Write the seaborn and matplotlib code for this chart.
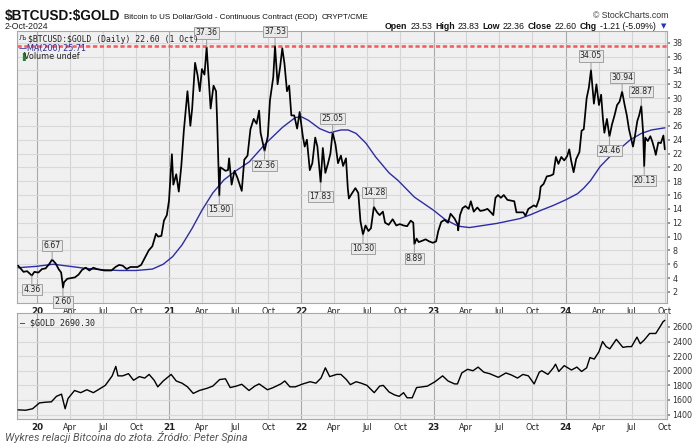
import pandas as pd
import seaborn as sns
import matplotlib.pyplot as plt
from matplotlib import font_manager

# ---- data ----
ratio_dates = [
    "2019-11-10", "2019-11-25", "2019-12-05", "2019-12-18", "2019-12-25",
    "2020-01-05", "2020-01-15", "2020-01-25", "2020-02-05", "2020-02-12", "2020-02-22",
    "2020-03-01", "2020-03-08", "2020-03-12", "2020-03-13", "2020-03-16", "2020-03-25",
    "2020-04-05", "2020-04-15", "2020-04-25", "2020-05-05", "2020-05-15", "2020-05-25",
    "2020-06-05", "2020-06-15", "2020-06-25", "2020-07-05", "2020-07-15", "2020-07-25",
    "2020-08-05", "2020-08-15", "2020-08-25", "2020-09-05", "2020-09-15", "2020-09-25",
    "2020-10-05", "2020-10-15", "2020-10-25", "2020-11-05", "2020-11-15", "2020-11-25",
    "2020-12-01", "2020-12-10", "2020-12-17", "2020-12-25", "2020-12-31",
    "2021-01-08", "2021-01-12", "2021-01-20", "2021-01-27", "2021-02-03", "2021-02-10",
    "2021-02-20", "2021-02-28", "2021-03-05", "2021-03-13", "2021-03-20", "2021-03-26",
    "2021-04-01", "2021-04-08", "2021-04-14", "2021-04-20", "2021-04-25", "2021-05-03",
    "2021-05-10", "2021-05-13", "2021-05-19", "2021-05-22", "2021-05-28", "2021-06-05",
    "2021-06-12", "2021-06-15", "2021-06-22", "2021-06-30", "2021-07-08", "2021-07-20",
    "2021-07-27", "2021-08-05", "2021-08-13", "2021-08-22", "2021-08-30", "2021-09-06",
    "2021-09-10", "2021-09-21", "2021-09-30", "2021-10-06", "2021-10-15", "2021-10-20",
    "2021-10-27", "2021-11-03", "2021-11-09", "2021-11-15", "2021-11-22", "2021-11-28",
    "2021-12-04", "2021-12-12", "2021-12-20", "2021-12-27",
    "2022-01-05", "2022-01-10", "2022-01-16", "2022-01-24", "2022-01-31", "2022-02-08",
    "2022-02-14", "2022-02-23", "2022-03-01", "2022-03-08", "2022-03-15", "2022-03-22",
    "2022-03-28", "2022-04-05", "2022-04-12", "2022-04-20", "2022-04-26", "2022-05-04",
    "2022-05-09", "2022-05-12", "2022-05-20", "2022-05-30", "2022-06-07", "2022-06-13",
    "2022-06-20", "2022-06-27", "2022-07-05", "2022-07-12", "2022-07-20", "2022-07-29",
    "2022-08-05", "2022-08-14", "2022-08-20", "2022-08-30", "2022-09-10", "2022-09-20",
    "2022-09-30", "2022-10-10", "2022-10-20", "2022-10-30", "2022-11-06", "2022-11-09",
    "2022-11-15", "2022-11-21", "2022-12-01", "2022-12-10", "2022-12-20", "2022-12-30",
    "2023-01-08", "2023-01-14", "2023-01-22", "2023-01-31", "2023-02-10", "2023-02-17",
    "2023-02-28", "2023-03-09", "2023-03-10", "2023-03-15", "2023-03-22", "2023-03-30",
    "2023-04-08", "2023-04-14", "2023-04-22", "2023-05-02", "2023-05-10", "2023-05-20",
    "2023-05-30", "2023-06-10", "2023-06-15", "2023-06-21", "2023-06-28", "2023-07-06",
    "2023-07-14", "2023-07-24", "2023-08-02", "2023-08-12", "2023-08-18", "2023-08-28",
    "2023-09-06", "2023-09-12", "2023-09-20", "2023-09-29", "2023-10-05", "2023-10-12",
    "2023-10-20", "2023-10-24", "2023-11-01", "2023-11-10", "2023-11-20", "2023-11-28",
    "2023-12-05", "2023-12-12", "2023-12-20", "2023-12-28",
    "2024-01-05", "2024-01-11", "2024-01-16", "2024-01-23", "2024-01-30", "2024-02-08",
    "2024-02-14", "2024-02-20", "2024-02-28", "2024-03-05", "2024-03-11", "2024-03-19",
    "2024-03-26", "2024-04-02", "2024-04-08", "2024-04-13", "2024-04-17", "2024-04-24",
    "2024-05-01", "2024-05-08", "2024-05-15", "2024-05-22", "2024-05-29", "2024-06-05",
    "2024-06-12", "2024-06-18", "2024-06-24", "2024-07-05", "2024-07-10", "2024-07-17",
    "2024-07-22", "2024-07-28", "2024-08-02", "2024-08-05", "2024-08-08", "2024-08-15",
    "2024-08-22", "2024-08-27", "2024-09-03", "2024-09-06", "2024-09-13", "2024-09-20",
    "2024-09-27", "2024-10-01",
]
ratio_values = [
    5.8, 4.9, 5.0, 4.36, 4.9,
    4.8, 5.3, 5.4, 6.1, 6.67, 6.1,
    5.3, 4.8, 3.2, 2.6, 3.4, 3.9,
    4.0, 4.1, 4.5, 5.2, 5.5, 5.1,
    5.5, 5.3, 5.2, 5.1, 5.1, 5.1,
    5.6, 5.9, 5.8, 5.3, 5.6, 5.6,
    5.6, 5.9, 6.9, 8.0, 8.6, 10.4,
    10.0, 10.1, 12.3, 13.1, 15.2,
    21.9, 17.5, 19.0, 16.5, 20.2, 25.3,
    31.0, 26.0, 28.5, 35.1, 33.3, 31.0,
    34.2, 33.4, 37.36, 32.5, 28.5, 31.8,
    31.0, 26.7, 15.9, 20.0, 19.8, 19.5,
    19.6, 21.3, 17.5, 19.5, 18.5, 16.6,
    21.1, 21.7, 25.5, 27.0, 26.3, 28.2,
    25.0, 22.36, 24.5, 29.7, 33.0, 37.53,
    32.0, 34.5, 37.2, 35.0, 31.0, 31.8,
    27.5, 27.5, 25.6, 28.0,
    24.4, 23.0, 24.0, 19.6, 20.6, 24.3,
    23.0, 17.83, 22.8, 19.2, 20.5, 22.0,
    25.05, 23.3, 20.6, 21.7, 20.2, 21.3,
    17.0, 15.5, 16.2, 17.0, 16.3, 12.2,
    10.3, 11.6, 10.8, 11.2, 14.28, 13.5,
    13.1, 13.6, 12.0, 11.7, 12.5, 11.6,
    11.8, 11.6, 11.5, 12.3, 12.0, 8.89,
    9.7, 9.2, 9.4, 9.6, 9.3, 9.1,
    9.3, 10.8, 12.1, 12.4, 12.0, 13.3,
    12.6, 11.7, 10.9, 13.1, 14.1, 14.4,
    14.0, 15.1, 13.6, 14.2, 13.7, 13.8,
    14.0, 13.4, 13.1, 15.6, 16.0, 15.6,
    16.0, 15.3, 15.2, 15.1, 13.5, 13.5,
    13.5, 13.0, 14.0, 14.3, 14.5, 14.3,
    15.5, 17.2, 17.6, 18.7, 18.8, 19.0,
    21.5, 20.5, 21.5, 21.0,
    21.6, 22.6, 21.0, 19.3, 21.2, 22.2,
    25.3, 25.5, 30.0, 31.5, 34.05, 29.2,
    32.0, 29.0, 30.5, 27.0, 25.0, 27.0,
    24.46, 26.2, 27.5, 29.0, 29.5, 30.94,
    29.0, 27.5, 25.5, 23.0, 24.4, 26.7,
    27.5, 28.87, 25.0, 20.13, 24.3, 23.8,
    24.5, 23.8, 22.5, 21.8, 23.6, 23.5,
    24.6, 22.6,
]

ma_dates = [
    "2019-11-10", "2020-01-01", "2020-02-15", "2020-04-01", "2020-05-15", "2020-07-01",
    "2020-08-15", "2020-10-01", "2020-11-15", "2020-12-15", "2021-01-10", "2021-02-05",
    "2021-03-05", "2021-04-01", "2021-05-01", "2021-06-01", "2021-07-01", "2021-08-10",
    "2021-09-25", "2021-11-10", "2021-12-15", "2022-01-01", "2022-01-20", "2022-02-20",
    "2022-03-20", "2022-04-20", "2022-05-10", "2022-06-01", "2022-06-28", "2022-07-25",
    "2022-08-31", "2022-09-25", "2022-11-09", "2023-01-01", "2023-02-01", "2023-03-10",
    "2023-04-10", "2023-06-25", "2023-08-28", "2023-09-28", "2023-10-25", "2023-11-28",
    "2024-01-01", "2024-02-03", "2024-02-20", "2024-03-10", "2024-04-05", "2024-05-01",
    "2024-05-30", "2024-06-28", "2024-07-28", "2024-08-25", "2024-10-01",
]
ma_values = [
    5.5, 5.7, 6.0, 5.7, 5.4, 5.2,
    5.1, 5.1, 5.3, 6.0, 7.1, 8.8,
    11.2, 13.8, 16.3, 18.2, 19.4, 20.8,
    23.5, 25.8, 27.2, 27.3, 26.8, 25.6,
    25.0, 25.4, 25.4, 24.9, 23.5, 21.5,
    19.2, 18.1, 15.7, 13.8, 12.5, 11.5,
    11.3, 11.9, 12.6, 13.2, 13.8, 14.5,
    15.3, 16.2, 17.0, 18.1, 20.1, 21.5,
    22.7, 24.0, 24.9, 25.4, 25.71,
]

gold_dates = [
    "2019-11-10", "2019-12-01", "2019-12-20", "2020-01-08", "2020-01-25", "2020-02-10",
    "2020-02-24", "2020-03-09", "2020-03-19", "2020-03-27", "2020-04-14", "2020-05-01",
    "2020-05-18", "2020-06-05", "2020-06-20", "2020-07-08", "2020-07-27", "2020-08-06",
    "2020-08-12", "2020-08-25", "2020-09-10", "2020-09-24", "2020-10-10", "2020-10-25",
    "2020-11-06", "2020-11-20", "2020-11-30", "2020-12-15", "2021-01-06", "2021-01-20",
    "2021-02-05", "2021-02-20", "2021-03-08", "2021-03-25", "2021-04-15", "2021-05-01",
    "2021-05-20", "2021-06-05", "2021-06-18", "2021-07-05", "2021-07-20", "2021-08-09",
    "2021-08-25", "2021-09-06", "2021-09-29", "2021-10-15", "2021-11-05", "2021-11-16",
    "2021-11-30", "2021-12-15", "2022-01-05", "2022-01-25", "2022-02-10", "2022-02-24",
    "2022-03-08", "2022-03-20", "2022-04-08", "2022-04-20", "2022-05-05", "2022-05-16",
    "2022-06-01", "2022-06-15", "2022-07-01", "2022-07-21", "2022-08-05", "2022-08-15",
    "2022-08-31", "2022-09-15", "2022-09-28", "2022-10-10", "2022-10-20", "2022-11-03",
    "2022-11-15", "2022-12-01", "2022-12-15", "2023-01-05", "2023-01-26", "2023-02-10",
    "2023-02-28", "2023-03-08", "2023-03-20", "2023-04-05", "2023-04-20", "2023-05-04",
    "2023-05-20", "2023-06-05", "2023-06-29", "2023-07-20", "2023-08-05", "2023-08-21",
    "2023-09-05", "2023-09-20", "2023-10-06", "2023-10-20", "2023-10-27", "2023-11-13",
    "2023-11-28", "2023-12-04", "2023-12-13", "2023-12-28", "2024-01-17", "2024-02-01",
    "2024-02-14", "2024-02-28", "2024-03-08", "2024-03-20", "2024-04-02", "2024-04-12",
    "2024-04-22", "2024-05-02", "2024-05-20", "2024-06-07", "2024-06-20", "2024-07-01",
    "2024-07-16", "2024-07-25", "2024-08-05", "2024-08-20", "2024-09-06", "2024-09-20",
    "2024-09-26", "2024-10-01",
]
gold_values = [
    1465, 1460, 1480, 1560, 1570, 1575,
    1650, 1680, 1480, 1620, 1730, 1700,
    1740, 1700, 1745, 1800, 1930, 2060,
    1930, 1930, 1960, 1870, 1920, 1900,
    1950, 1870, 1780, 1860, 1950, 1860,
    1830, 1780, 1690, 1730, 1760, 1790,
    1880, 1890, 1770, 1790, 1815, 1730,
    1790, 1820, 1740, 1770, 1820, 1860,
    1780, 1780, 1820, 1850, 1830, 1900,
    2040, 1920, 1950, 1950, 1880, 1810,
    1850, 1830, 1800, 1700, 1790, 1800,
    1710, 1670, 1650, 1700, 1630, 1630,
    1770, 1780, 1790, 1850, 1930, 1860,
    1820, 1820, 1970, 2020, 2000, 2050,
    1980, 1960, 1910, 1970, 1940, 1900,
    1950, 1930, 1820, 1980, 2000, 1950,
    2040, 2090, 1990, 2070, 2010, 2050,
    1990, 2040, 2180, 2160, 2260, 2400,
    2330, 2300, 2430, 2320, 2330, 2330,
    2460, 2370, 2420, 2510, 2510, 2620,
    2670, 2690,
]

peak_dates = ["2020-02-12", "2021-04-14", "2021-10-20", "2022-03-28", "2022-07-20",
              "2024-03-11", "2024-06-05", "2024-07-28"]
peak_values = [6.67, 37.36, 37.53, 25.05, 14.28, 34.05, 30.94, 28.87]
trough_dates = ["2019-12-18", "2020-03-13", "2021-05-19", "2021-09-21", "2022-02-23",
                "2022-06-20", "2022-11-09", "2024-05-01", "2024-08-05"]
trough_values = [4.36, 2.60, 15.90, 22.36, 17.83, 10.30, 8.89, 24.46, 20.13]

ratio = pd.DataFrame({"date": pd.to_datetime(ratio_dates), "value": ratio_values})
ma = pd.DataFrame({"date": pd.to_datetime(ma_dates), "value": ma_values})
gold = pd.DataFrame({"date": pd.to_datetime(gold_dates), "value": gold_values})

# ---- style ----
sns.set_theme(style="white")
installed = {f.name for f in font_manager.fontManager.ttflist}
narrow = "Liberation Sans Narrow" if "Liberation Sans Narrow" in installed else "Liberation Sans"
plt.rcParams["font.family"] = ["DejaVu Sans"]

W, H = 697, 448
fig = plt.figure(figsize=(W / 100, H / 100), dpi=100)
renderer = fig.canvas.get_renderer()


def frac(x0, y0, x1, y1):
    return [x0 / W, 1 - y1 / H, (x1 - x0) / W, (y1 - y0) / H]


ax1 = fig.add_axes(frac(17, 31, 667, 303))
ax2 = fig.add_axes(frac(17, 313, 667, 419))

xmin, xmax = pd.Timestamp("2019-11-07"), pd.Timestamp("2024-10-07")
quarters = pd.date_range("2020-01-01", "2024-10-01", freq="QS")
qlabels = [f"{d.year % 100}" if d.month == 1 else d.strftime("%b") for d in quarters]

for ax in (ax1, ax2):
    ax.set_facecolor("#f0f0f0")
    for s in ax.spines.values():
        s.set_color("#a8a8a8")
        s.set_linewidth(0.8)
    for d in quarters:
        ax.axvline(d, color="#a9a9a9" if d.month == 1 else "#d4d4d4", lw=0.8, zorder=0)
    ax.set_xlim(xmin, xmax)
    ax.set_xticks(quarters)
    ax.set_xticklabels(qlabels)
    for lbl, d in zip(ax.get_xticklabels(), quarters):
        lbl.set_fontweight("bold" if d.month == 1 else "normal")
        lbl.set_fontsize(6.3 if d.month == 1 else 5.8)
        lbl.set_color("#222222")
    ax.yaxis.tick_right()
    ax.tick_params(axis="x", length=2, pad=1, color="#888888")
    ax.tick_params(axis="y", length=2, pad=2, labelsize=5.8, labelcolor="#333333", color="#888888")
    ax.grid(axis="y", color="#d9d9d9", lw=0.8)
    ax.set_axisbelow(True)

# ---- upper panel ----
ax1.set_ylim(0.4, 39.7)
ax1.set_yticks(range(2, 40, 2))
ax1.axhline(37.53, color="#ff5a5a", lw=1.9, ls=(0, (1.6, 1.0)), zorder=2)
sns.lineplot(data=ma, x="date", y="value", ax=ax1, color="#2c2ca8", lw=1.0, zorder=3)
sns.lineplot(data=ratio, x="date", y="value", ax=ax1, color="black", lw=1.25, zorder=4)
ax1.set_xlabel("")
ax1.set_ylabel("")

box = dict(boxstyle="square,pad=0.15", fc="#e9e9e9", ec="#a0a0a0", lw=0.7)
arrow = dict(arrowstyle="-", color="#9a9a9a", lw=0.7, shrinkA=0, shrinkB=0)
for d, v in zip(peak_dates, peak_values):
    ax1.annotate(f"{v:.2f}", (pd.Timestamp(d), v), xytext=(0, 7), textcoords="offset points",
                 ha="center", va="bottom", fontsize=5.6, color="#222222", bbox=box,
                 arrowprops=arrow, zorder=6)
for d, v in zip(trough_dates, trough_values):
    ax1.annotate(f"{v:.2f}", (pd.Timestamp(d), v), xytext=(0, -7), textcoords="offset points",
                 ha="center", va="top", fontsize=5.6, color="#222222", bbox=box,
                 arrowprops=arrow, zorder=6)

ax1.text(0.017, 0.985, r"\$BTCUSD:\$GOLD (Daily) 22.60 (1 Oct)", transform=ax1.transAxes,
         family="DejaVu Sans Mono", fontsize=5.9, va="top", color="#222222", zorder=7)
ax1.text(0.003, 0.985, "\u0409", transform=ax1.transAxes, fontsize=5.0, va="top", color="#333333")
ax1.text(0.003, 0.953, "\u2014MA(200) 25.71", transform=ax1.transAxes, fontsize=5.8, va="top",
         color="#2c2ca8", zorder=7)
ax1.text(0.003, 0.921, "\u2590", transform=ax1.transAxes, fontsize=5.5, va="top", color="#2e7d32")
ax1.text(0.011, 0.921, "Volume undef", transform=ax1.transAxes, fontsize=5.8, va="top",
         color="#222222", zorder=7)

# ---- lower panel ----
ax2.set_ylim(1340, 2790)
ax2.set_yticks(range(1400, 2700, 200))
sns.lineplot(data=gold, x="date", y="value", ax=ax2, color="black", lw=1.0, zorder=4)
ax2.set_xlabel("")
ax2.set_ylabel("")
ax2.text(0.005, 0.95, "\u2014 \\$GOLD 2690.30", transform=ax2.transAxes, family="DejaVu Sans Mono",
         fontsize=6.0, va="top", color="#222222")


# ---- header: pieces laid out left to right by measured width ----
def row(x, y, pieces, gap=3, size=6.3):
    for s, bold in pieces:
        t = fig.text(x / W, 1 - y / H, s, family=[narrow, "DejaVu Sans"], fontsize=size,
                     fontweight="bold" if bold else "normal", color="#111111")
        x += t.get_window_extent(renderer).width + gap
    return x


x = row(5, 20, [(r"\$BTCUSD:\$GOLD", True)], size=9.8, gap=4)
row(x, 19, [("Bitcoin to US Dollar/Gold - Continuous Contract (EOD)", False), ("CRYPT/CME", False)],
    size=5.8, gap=4)
fig.text(5 / W, 1 - 29 / H, "2-Oct-2024", family=[narrow, "DejaVu Sans"], fontsize=6.3,
         color="#222222")
fig.text(668 / W, 1 - 18 / H, "\u00a9 StockCharts.com", family=[narrow, "DejaVu Sans"],
         fontsize=6.3, color="#333333", ha="right")
quote = [("Open", True), ("23.53", False), ("High", True), ("23.83", False), ("Low", True),
         ("22.36", False), ("Close", True), ("22.60", False), ("Chg", True), ("-1.21 (-5.09%)", False)]
end = row(0, -100, quote, size=6.3)  # measure full width off-canvas
for t in fig.texts[-len(quote):]:
    t.remove()
row(659 - end, 29, quote, size=6.3)
fig.text(661 / W, 1 - 28 / H, "\u25bc", fontsize=5, color="#2233cc")

fig.text(5 / W, 1 - 441 / H, "Wykres relacji Bitcoina do z\u0142ota. \u0179r\u00f3d\u0142o: Peter Spina",
         family=["Roboto", "DejaVu Sans"], fontsize=7.8, style="italic", color="#555555")

fig.savefig("out.png", dpi=100, facecolor="white")
